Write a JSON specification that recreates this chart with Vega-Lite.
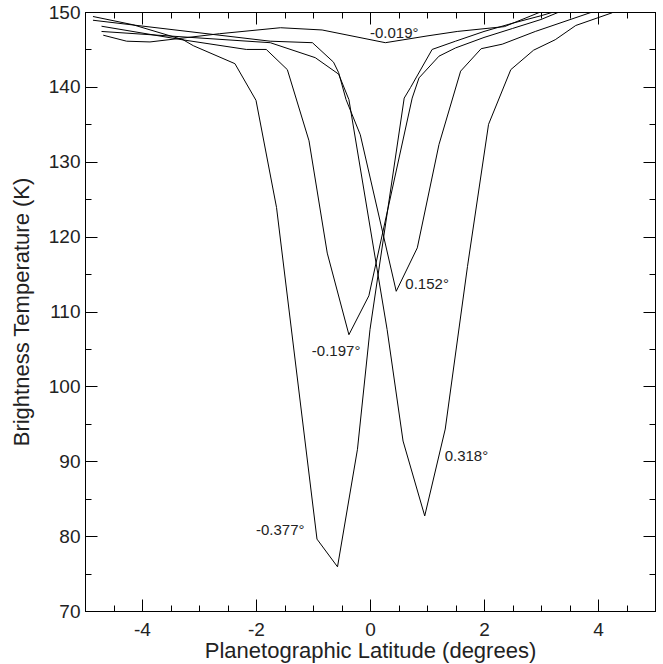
{
  "$schema": "https://vega.github.io/schema/vega-lite/v6.json",
  "width": 570,
  "height": 599,
  "autosize": {"type": "none"},
  "padding": {"left": 85, "top": 12, "right": 8, "bottom": 53},
  "background": "white",
  "config": {
    "font": "Liberation Sans",
    "view": {"stroke": "black", "strokeWidth": 1},
    "axis": {
      "domainColor": "black",
      "domainWidth": 1,
      "tickColor": "black",
      "tickWidth": 1,
      "grid": false,
      "labelFont": "Liberation Sans",
      "labelFontSize": 19,
      "labelColor": "#222",
      "titleFont": "Liberation Sans",
      "titleFontSize": 22,
      "titleFontWeight": "normal",
      "titleColor": "#222"
    }
  },
  "datasets": {
    "curves": [
      {"series": "-0.377", "lat": -4.86, "tb": 149.4},
      {"series": "-0.377", "lat": -4.16, "tb": 148.3},
      {"series": "-0.377", "lat": -3.28, "tb": 146.3},
      {"series": "-0.377", "lat": -3.1, "tb": 145.5},
      {"series": "-0.377", "lat": -2.37, "tb": 143.1},
      {"series": "-0.377", "lat": -2.0, "tb": 138.2},
      {"series": "-0.377", "lat": -1.64, "tb": 123.9},
      {"series": "-0.377", "lat": -0.93, "tb": 79.6},
      {"series": "-0.377", "lat": -0.57, "tb": 75.9},
      {"series": "-0.377", "lat": -0.22, "tb": 91.6},
      {"series": "-0.377", "lat": 0.0, "tb": 107.6},
      {"series": "-0.377", "lat": 0.6, "tb": 138.5},
      {"series": "-0.377", "lat": 0.71, "tb": 139.9},
      {"series": "-0.377", "lat": 1.09, "tb": 145.0},
      {"series": "-0.377", "lat": 1.5, "tb": 146.1},
      {"series": "-0.377", "lat": 2.0, "tb": 147.4},
      {"series": "-0.377", "lat": 2.5, "tb": 148.5},
      {"series": "-0.377", "lat": 3.0, "tb": 149.5},
      {"series": "-0.377", "lat": 3.35, "tb": 150.3},

      {"series": "-0.197", "lat": -4.71, "tb": 148.1},
      {"series": "-0.197", "lat": -3.3, "tb": 146.3},
      {"series": "-0.197", "lat": -2.17, "tb": 145.0},
      {"series": "-0.197", "lat": -1.82, "tb": 145.0},
      {"series": "-0.197", "lat": -1.45, "tb": 142.3},
      {"series": "-0.197", "lat": -1.07, "tb": 132.8},
      {"series": "-0.197", "lat": -0.75, "tb": 117.8},
      {"series": "-0.197", "lat": -0.37, "tb": 106.9},
      {"series": "-0.197", "lat": -0.02, "tb": 112.1},
      {"series": "-0.197", "lat": 0.74, "tb": 138.5},
      {"series": "-0.197", "lat": 0.86, "tb": 141.2},
      {"series": "-0.197", "lat": 1.21, "tb": 144.1},
      {"series": "-0.197", "lat": 1.5, "tb": 145.2},
      {"series": "-0.197", "lat": 2.0, "tb": 146.6},
      {"series": "-0.197", "lat": 2.5, "tb": 147.8},
      {"series": "-0.197", "lat": 3.0, "tb": 149.0},
      {"series": "-0.197", "lat": 3.35, "tb": 150.1},

      {"series": "0.152", "lat": -4.86, "tb": 148.9},
      {"series": "0.152", "lat": -1.75, "tb": 146.1},
      {"series": "0.152", "lat": -1.01, "tb": 145.9},
      {"series": "0.152", "lat": -0.64, "tb": 143.3},
      {"series": "0.152", "lat": -0.55, "tb": 141.9},
      {"series": "0.152", "lat": -0.42, "tb": 138.3},
      {"series": "0.152", "lat": -0.17, "tb": 133.6},
      {"series": "0.152", "lat": 0.46, "tb": 112.7},
      {"series": "0.152", "lat": 0.83, "tb": 118.5},
      {"series": "0.152", "lat": 1.21, "tb": 132.3},
      {"series": "0.152", "lat": 1.59, "tb": 142.1},
      {"series": "0.152", "lat": 1.95, "tb": 145.1},
      {"series": "0.152", "lat": 2.32, "tb": 145.7},
      {"series": "0.152", "lat": 2.9, "tb": 147.4},
      {"series": "0.152", "lat": 3.9, "tb": 150.0},

      {"series": "0.318", "lat": -4.71, "tb": 147.4},
      {"series": "0.318", "lat": -1.75, "tb": 145.9},
      {"series": "0.318", "lat": -0.96, "tb": 143.9},
      {"series": "0.318", "lat": -0.55, "tb": 141.7},
      {"series": "0.318", "lat": -0.37, "tb": 138.3},
      {"series": "0.318", "lat": 0.3, "tb": 107.6},
      {"series": "0.318", "lat": 0.58, "tb": 92.7},
      {"series": "0.318", "lat": 0.96, "tb": 82.7},
      {"series": "0.318", "lat": 1.32, "tb": 94.3},
      {"series": "0.318", "lat": 1.71, "tb": 116.0},
      {"series": "0.318", "lat": 2.08, "tb": 135.0},
      {"series": "0.318", "lat": 2.47, "tb": 142.3},
      {"series": "0.318", "lat": 2.87, "tb": 144.9},
      {"series": "0.318", "lat": 3.25, "tb": 146.3},
      {"series": "0.318", "lat": 3.61, "tb": 148.2},
      {"series": "0.318", "lat": 4.25, "tb": 149.9},

      {"series": "-0.019", "lat": -4.68, "tb": 146.9},
      {"series": "-0.019", "lat": -4.27, "tb": 146.1},
      {"series": "-0.019", "lat": -3.86, "tb": 146.0},
      {"series": "-0.019", "lat": -2.64, "tb": 147.1},
      {"series": "-0.019", "lat": -1.57, "tb": 147.9},
      {"series": "-0.019", "lat": -0.84, "tb": 147.6},
      {"series": "-0.019", "lat": 0.27, "tb": 145.9},
      {"series": "-0.019", "lat": 1.0, "tb": 146.8},
      {"series": "-0.019", "lat": 1.53, "tb": 147.4},
      {"series": "-0.019", "lat": 2.36, "tb": 148.05},
      {"series": "-0.019", "lat": 2.99, "tb": 150.0},
      {"series": "-0.019", "lat": 3.1, "tb": 150.4}
    ],
    "labels": [
      {"label": "-0.019°", "lat": 0.0, "tb": 147.2},
      {"label": "0.152°", "lat": 0.62, "tb": 113.7},
      {"label": "-0.197°", "lat": -1.02, "tb": 104.7},
      {"label": "-0.377°", "lat": -2.0, "tb": 80.8},
      {"label": "0.318°", "lat": 1.31, "tb": 90.7}
    ]
  },
  "layer": [
    {
      "data": {"name": "curves"},
      "mark": {"type": "line", "color": "black", "strokeWidth": 1, "clip": true},
      "encoding": {
        "x": {
          "field": "lat", "type": "quantitative",
          "scale": {"domain": [-5, 5], "nice": false, "zero": false},
          "axis": {
            "orient": "bottom",
            "title": "Planetographic Latitude (degrees)",
            "values": [-4, -2, 0, 2, 4],
            "labelExpr": "'' + datum.value",
            "tickSize": -12,
            "labelPadding": 21,
            "labelFlush": false,
            "labelOverlap": false,
            "titlePadding": 1
          }
        },
        "y": {
          "field": "tb", "type": "quantitative",
          "scale": {"domain": [70, 150], "nice": false, "zero": false},
          "axis": {
            "orient": "left",
            "title": "Brightness Temperature (K)",
            "values": [70, 80, 90, 100, 110, 120, 130, 140, 150],
            "labelExpr": "'' + datum.value",
            "tickSize": -12,
            "labelPadding": 17,
            "labelFlush": false,
            "labelOverlap": false,
            "titlePadding": 15
          }
        },
        "detail": {"field": "series"}
      }
    },
    {
      "data": {"name": "labels"},
      "mark": {"type": "text", "align": "left", "baseline": "middle", "fontSize": 15, "font": "Liberation Sans", "color": "#222"},
      "encoding": {
        "x": {
          "field": "lat", "type": "quantitative",
          "axis": {"orient": "top", "title": null, "labels": false, "values": [-4, -2, 0, 2, 4], "tickSize": -12}
        },
        "y": {
          "field": "tb", "type": "quantitative",
          "axis": {"orient": "right", "title": null, "labels": false, "values": [70, 80, 90, 100, 110, 120, 130, 140, 150], "tickSize": -12}
        },
        "text": {"field": "label"}
      }
    },
    {
      "data": {"name": "curves"},
      "mark": {"type": "line", "opacity": 0, "clip": true},
      "encoding": {
        "x": {
          "field": "lat", "type": "quantitative",
          "axis": {"orient": "bottom", "title": null, "labels": false, "values": [-4.5, -3.5, -3, -2.5, -1.5, -1, -0.5, 0.5, 1, 1.5, 2.5, 3, 3.5, 4.5], "tickSize": -6}
        },
        "y": {
          "field": "tb", "type": "quantitative",
          "axis": {"orient": "left", "title": null, "labels": false, "values": [75, 85, 95, 105, 115, 125, 135, 145], "tickSize": -6}
        },
        "detail": {"field": "series"}
      }
    },
    {
      "data": {"name": "labels"},
      "mark": {"type": "text", "opacity": 0},
      "encoding": {
        "x": {
          "field": "lat", "type": "quantitative",
          "axis": {"orient": "top", "title": null, "labels": false, "values": [-4.5, -3.5, -3, -2.5, -1.5, -1, -0.5, 0.5, 1, 1.5, 2.5, 3, 3.5, 4.5], "tickSize": -6}
        },
        "y": {
          "field": "tb", "type": "quantitative",
          "axis": {"orient": "right", "title": null, "labels": false, "values": [75, 85, 95, 105, 115, 125, 135, 145], "tickSize": -6}
        },
        "text": {"field": "label"}
      }
    }
  ],
  "resolve": {"axis": {"x": "independent", "y": "independent"}}
}
